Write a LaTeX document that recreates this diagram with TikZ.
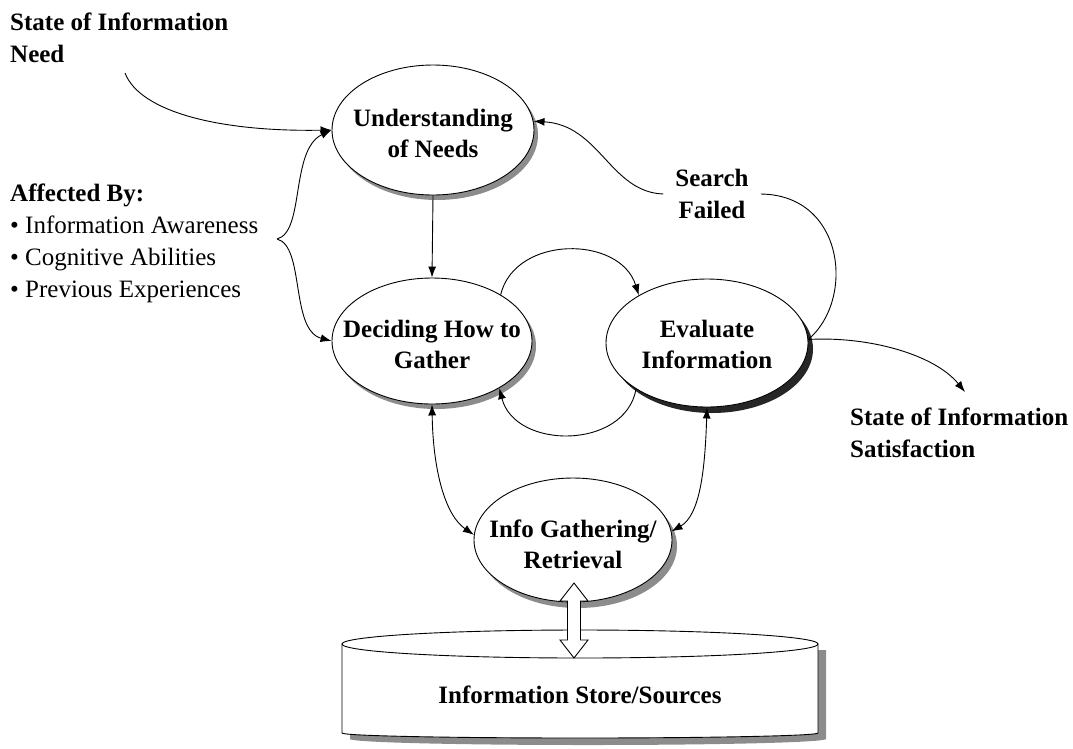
\documentclass[tikz,border=0pt]{standalone}
\usepackage{fontspec}
\setmainfont{Liberation Serif}
\usetikzlibrary{arrows.meta,shapes.geometric,calc}
\begin{document}
\begin{tikzpicture}[x=1pt,y=-1pt,
  every node/.style={inner sep=0pt},
  oval/.style={ellipse, draw, line width=0.9pt, fill=white},
  ovaltext/.style={align=center, font=\fontsize{25}{31}\selectfont\bfseries},
  lbl/.style={align=left, font=\fontsize{25}{32}\selectfont\bfseries},
  plain/.style={align=left, font=\fontsize{25}{32}\selectfont},
  conn/.style={line width=0.9pt},
  arr/.style={conn, -{Latex[length=11pt,width=8pt]}},
  darr/.style={conn, {Latex[length=11pt,width=8pt]}-{Latex[length=11pt,width=8pt]}},
  shadowg/.style={fill=black!45},
  shadowd/.style={fill=black!85},
]
\useasboundingbox (0,0) rectangle (1073,748);

% ---------- shadows ----------
\fill[shadowg] (437,135) ellipse [x radius=101, y radius=65];
\fill[shadowg] (436,346) ellipse [x radius=100, y radius=63];
\fill[shadowd] (712,349) ellipse [x radius=101, y radius=64];
\fill[shadowg] (578,546) ellipse [x radius=99, y radius=62];
\fill[shadowg] (826,650) -- (826,739) arc [start angle=0, end angle=180, x radius=238, y radius=6] -- (350,650) -- cycle;

% ---------- cylinder (information store) ----------
\filldraw[conn, fill=white] (818,644) -- (818,733) arc [start angle=0, end angle=180, x radius=238, y radius=5] -- (342,644) -- cycle;
\filldraw[conn, fill=white] (580,644) ellipse [x radius=238, y radius=14];
\coordinate (cyltop) at (574,658);
\node[ovaltext] (store) at (580,695) {Information Store/Sources};

% ---------- ellipses ----------
\node[oval, minimum width=202pt, minimum height=130pt] (und) at (433,130) {};
\node[ovaltext] (undt) at (433,133) {Understanding\\of Needs};
\node[oval, minimum width=200pt, minimum height=126pt] (dec) at (432,341) {};
\node[ovaltext] (dect) at (432,344) {Deciding How to\\Gather};
\node[oval, minimum width=202pt, minimum height=128pt] (eva) at (707,343) {};
\node[ovaltext] (evat) at (707,344) {Evaluate\\Information};
\node[oval, minimum width=198pt, minimum height=124pt] (info) at (573,540) {};
\node[ovaltext] (infot) at (573,544) {Info Gathering/\\Retrieval};

% ---------- free labels ----------
\node[lbl, anchor=west] (need) at (10,38) {State of Information\\Need};
\node[plain, anchor=west] (aff) at (10,243) {\textbf{Affected By:}\\• Information Awareness\\• Cognitive Abilities\\• Previous Experiences};
\node[lbl, align=center, inner xsep=12pt] (sf) at (712,194) {Search\\Failed};
\node[lbl, anchor=west] (sat) at (850,433) {State of Information\\Satisfaction};

\coordinate (needstart) at (125,73);
\coordinate (brace) at (277,239);
\coordinate (satarr) at (965,392);
\coordinate (fa1) at (574,583);

% ---------- connectors ----------
\draw[arr] (needstart) .. controls (140,112) and (220,132) .. (und.west);
\draw[arr] (brace) .. controls (305,232) and (290,150) .. (und.west);
\draw[arr] (brace) .. controls (305,246) and (290,330) .. (dec.west);
\draw[arr] (und.south) -- (dec.north);
\draw[arr] (dec.34) .. controls (515,235) and (620,235) .. (eva.145);
\draw[arr] (eva.213) .. controls (625,450) and (515,450) .. (dec.-35);
\draw[conn] (eva.2) .. controls (855,300) and (845,195) .. (sf.east);
\draw[arr] (sf.west) .. controls (610,192) and (600,125) .. (und.5);
\draw[arr] (eva.2) .. controls (870,336) and (935,355) .. (satarr);
\draw[darr] (dec.south) .. controls (433,470) and (445,515) .. (info.177);
\draw[darr] (eva.south) .. controls (705,470) and (700,515) .. (info.5);

% ---------- hollow double arrow ----------
\draw[conn, fill=white] (fa1) -- ++(14,18) -- ++(-7.5,0) -- ($(cyltop)+(6.5,-18)$) -- ++(7.5,0) -- (cyltop) -- ++(-14,-18) -- ++(7.5,0) -- ($(fa1)+(-6.5,18)$) -- ++(-7.5,0) -- cycle;
\end{tikzpicture}
\end{document}
